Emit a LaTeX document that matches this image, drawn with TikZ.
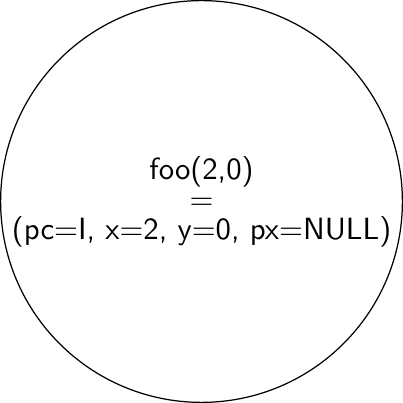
\documentclass[tikz,border=0pt]{standalone}
\usepackage{tikz}
\usetikzlibrary{positioning}
\tikzset{
  callcircle/.style={draw, circle, inner sep=1.6pt, align=center, font=\sffamily},
}
\begin{document}
\begin{tikzpicture}
  \node[callcircle] (call) at (0,0) {foo(2,0)\\[-2.2pt]$=$\\[-2.2pt](pc=I, x=2, y=0, px=NULL)};
\end{tikzpicture}
\end{document}
